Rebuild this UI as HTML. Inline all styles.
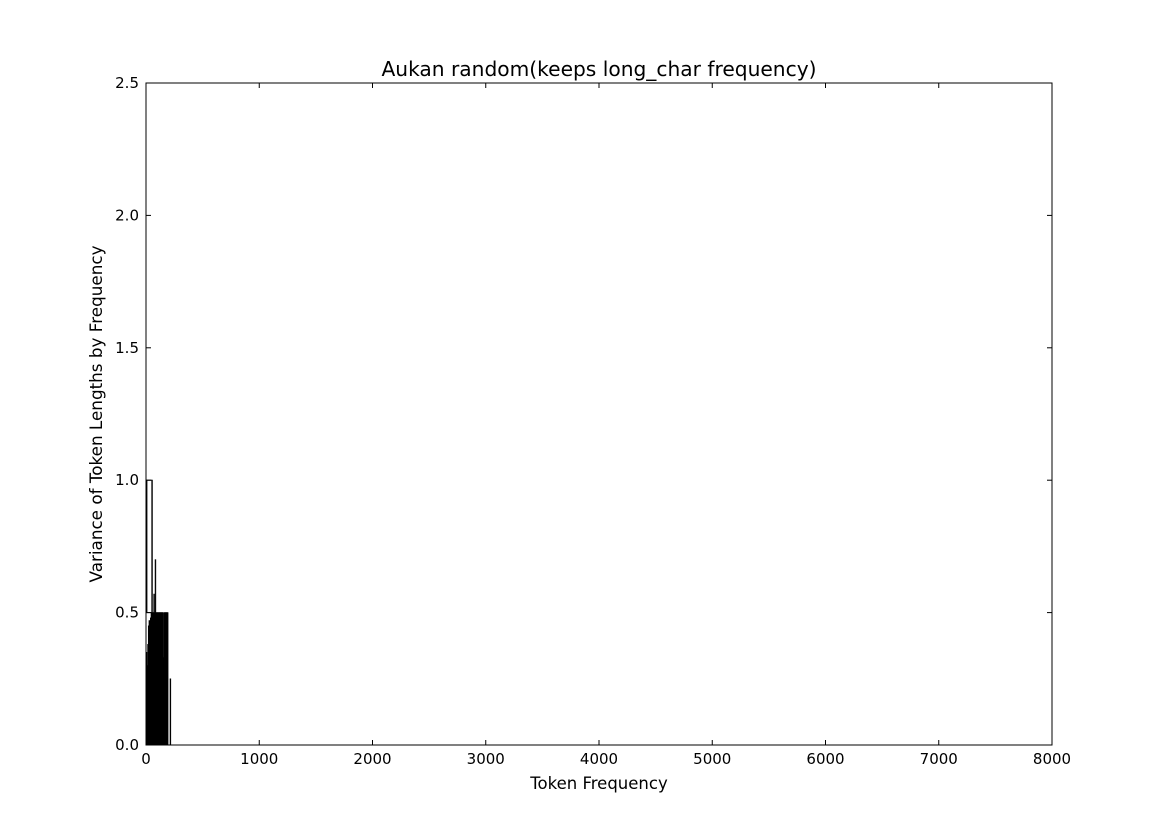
<!DOCTYPE html>
<html><head><meta charset="utf-8"><style>
body{margin:0;background:#fff;}
svg{display:block;font-family:"DejaVu Sans","Liberation Sans",sans-serif;}
</style></head><body>
<svg width="1169" height="827">
<rect width="1169" height="827" fill="#fff"/>
<g id="bars"></g>
<rect x="146" y="83" width="906" height="662" fill="none" stroke="#000" stroke-width="1"/>
<g id="axes"></g>
<text x="599" y="76" text-anchor="middle" font-size="20.2">Aukan random(keeps long_char frequency)</text>
<text x="599" y="789" text-anchor="middle" font-size="16.5">Token Frequency</text>
<text transform="translate(102,414) rotate(-90)" text-anchor="middle" font-size="16.8">Variance of Token Lengths by Frequency</text>
</svg>
<script>
const xTicks=[0,1000,2000,3000,4000,5000,6000,7000,8000];
const yTicks=[0.0,0.5,1.0,1.5,2.0,2.5];
const wideFreq=[8,0];
const wideWidth=[45,50];
const wideVar=[1.0,0.5];
const barFreq=[2,8,14,20,26,32,38,44,50,56,62,68,74,80,86,92,98,104,110,116,122,128,134,140,146,152,158,164,170,176,182,188,194,200,206,212];
const barVar=[0.35,0.30,0.38,0.45,0.47,0.40,0.48,0.50,1.0,0.50,0.50,0.57,0.50,0.70,0.50,0.50,0.50,0.50,0.50,0.50,0.50,0.50,0.50,0.50,0.50,0.33,0.50,0.50,0.50,0.50,0.50,0.50,0.0,0.0,0.0,0.25];
const X0=146,X1=1052,Y0=745,Y1=83;
const xs=v=>X0+(v-0)/(8000)*(X1-X0);
const ys=v=>Y0-(v/2.5)*(Y0-Y1);
const NS="http://www.w3.org/2000/svg";
const bars=document.getElementById('bars'),axes=document.getElementById('axes');
function mk(t,a,p){const e=document.createElementNS(NS,t);for(const k in a)e.setAttribute(k,a[k]);p.appendChild(e);return e;}
wideFreq.forEach((f,i)=>{
 const r=mk('rect',{x:xs(f),y:ys(wideVar[i]),width:xs(f+wideWidth[i])-xs(f),height:Y0-ys(wideVar[i]),fill:'#fff',stroke:'#000','stroke-width':1},bars);
 
 
});
barFreq.forEach((f,i)=>{
 const h=Y0-ys(barVar[i]);
 const r=mk('rect',{x:xs(f),y:ys(barVar[i]),width:Math.max(xs(f+6)-xs(f),0.8),height:h,fill:'#000',stroke:'#000','stroke-width':0.6},bars);
 
 
});
xTicks.forEach(t=>{
 const x=xs(t);
 mk('line',{x1:x,x2:x,y1:Y0,y2:Y0-5,stroke:'#000'},axes);
 mk('line',{x1:x,x2:x,y1:Y1,y2:Y1+5,stroke:'#000'},axes);
 const tx=mk('text',{x:x,y:Y0+19,'text-anchor':'middle','font-size':15},axes);
 tx.textContent=t;
 
 
});
yTicks.forEach(t=>{
 const y=ys(t);
 mk('line',{x1:X0,x2:X0+5,y1:y,y2:y,stroke:'#000'},axes);
 mk('line',{x1:X1,x2:X1-5,y1:y,y2:y,stroke:'#000'},axes);
 const tx=mk('text',{x:X0-7,y:y+5,'text-anchor':'end','font-size':15},axes);
 tx.textContent=t.toFixed(1);
 
 
});
</script>
</body></html>
